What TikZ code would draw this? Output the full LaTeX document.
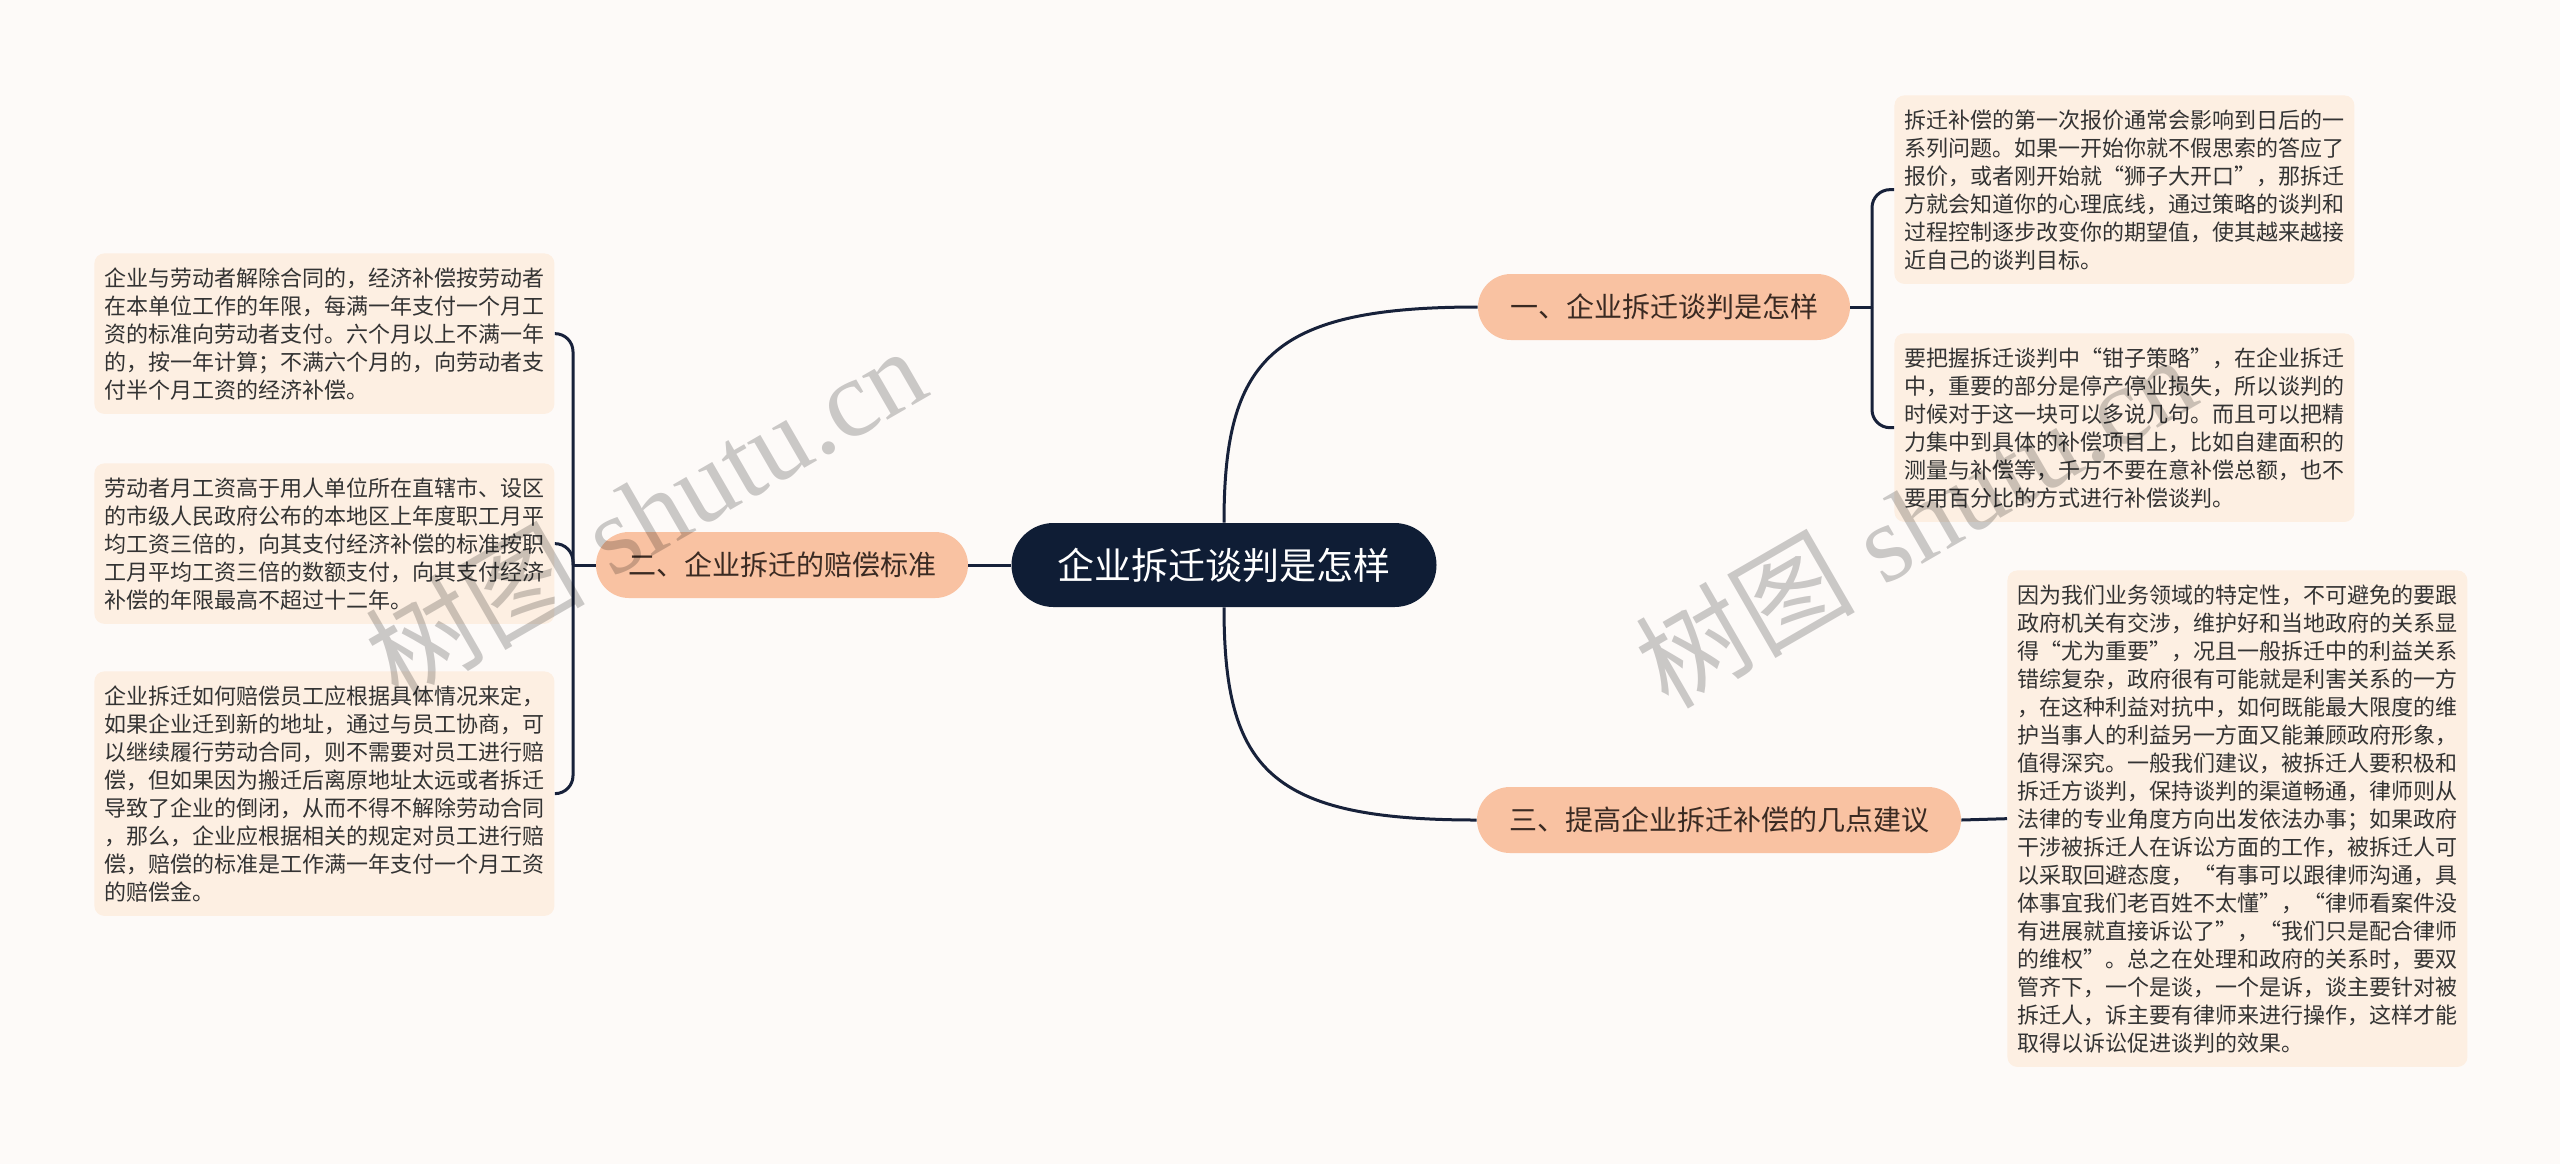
\documentclass[tikz,border=0pt]{standalone}
\usepackage{fontspec}
\setmainfont{Noto Sans CJK SC}
\newfontfamily\wmserif{Liberation Serif}
\usetikzlibrary{calc}
\definecolor{bg}{HTML}{FDFAF8}
\definecolor{navy}{HTML}{0F1D35}
\definecolor{peach}{HTML}{F9C2A2}
\definecolor{leaffill}{HTML}{FDEFE2}
\definecolor{linec}{HTML}{17213A}
\definecolor{txt}{HTML}{333333}
\definecolor{btxt}{HTML}{3A2A22}
\begin{document}
\begin{tikzpicture}[x=0.5pt,y=-0.5pt,
  rootnode/.style={fill=navy, text=white, rounded corners=21pt, minimum height=42pt, minimum width=212.5pt, inner sep=0pt, font=\fontsize{18.5pt}{22pt}\selectfont},
  branchnode/.style={fill=peach, text=btxt, rounded corners=16.5pt, minimum height=33pt, inner xsep=16pt, inner ysep=0pt, font=\fontsize{14pt}{17pt}\selectfont},
  leafnode/.style={fill=leaffill, text=txt, rounded corners=5pt, inner xsep=5pt, inner ysep=7pt, align=left, anchor=north west, font=\fontsize{11pt}{14pt}\selectfont},
  link/.style={draw=linec, line width=1.5pt},
  bracket/.style={link, rounded corners=9pt},
  wm/.style={text=black, opacity=0.2, rotate=30, inner sep=0pt, font=\fontsize{55pt}{60pt}\selectfont}
]
\path[fill=bg, use as bounding box] (0,0) rectangle (2560,1164);

% central and branch nodes
\node[rootnode] (root) at (1224,565) {企业拆迁谈判是怎样};
\node[branchnode] (b1) at (1664,307) {一、企业拆迁谈判是怎样};
\node[branchnode] (b2) at (782,565) {二、企业拆迁的赔偿标准};
\node[branchnode] (b3) at (1719,820) {三、提高企业拆迁补偿的几点建议};

% leaves right
\node[leafnode] (r1) at (1894,95) {拆迁补偿的第一次报价通常会影响到日后的一\\系列问题。如果一开始你就不假思索的答应了\\报价，或者刚开始就“狮子大开口”，那拆迁\\方就会知道你的心理底线，通过策略的谈判和\\过程控制逐步改变你的期望值，使其越来越接\\近自己的谈判目标。};
\node[leafnode] (r2) at (1894,333) {要把握拆迁谈判中“钳子策略”，在企业拆迁\\中，重要的部分是停产停业损失，所以谈判的\\时候对于这一块可以多说几句。而且可以把精\\力集中到具体的补偿项目上，比如自建面积的\\测量与补偿等，千万不要在意补偿总额，也不\\要用百分比的方式进行补偿谈判。};
\node[leafnode] (r3) at (2007,570) {因为我们业务领域的特定性，不可避免的要跟\\政府机关有交涉，维护好和当地政府的关系显\\得“尤为重要”，况且一般拆迁中的利益关系\\错综复杂，政府很有可能就是利害关系的一方\\，在这种利益对抗中，如何既能最大限度的维\\护当事人的利益另一方面又能兼顾政府形象，\\值得深究。一般我们建议，被拆迁人要积极和\\拆迁方谈判，保持谈判的渠道畅通，律师则从\\法律的专业角度方向出发依法办事；如果政府\\干涉被拆迁人在诉讼方面的工作，被拆迁人可\\以采取回避态度，“有事可以跟律师沟通，具\\体事宜我们老百姓不太懂”，“律师看案件没\\有进展就直接诉讼了”，“我们只是配合律师\\的维权”。总之在处理和政府的关系时，要双\\管齐下，一个是谈，一个是诉，谈主要针对被\\拆迁人，诉主要有律师来进行操作，这样才能\\取得以诉讼促进谈判的效果。};

% leaves left
\node[leafnode] (l1) at (94,253) {企业与劳动者解除合同的，经济补偿按劳动者\\在本单位工作的年限，每满一年支付一个月工\\资的标准向劳动者支付。六个月以上不满一年\\的，按一年计算；不满六个月的，向劳动者支\\付半个月工资的经济补偿。};
\node[leafnode] (l2) at (94,463) {劳动者月工资高于用人单位所在直辖市、设区\\的市级人民政府公布的本地区上年度职工月平\\均工资三倍的，向其支付经济补偿的标准按职\\工月平均工资三倍的数额支付，向其支付经济\\补偿的年限最高不超过十二年。};
\node[leafnode] (l3) at (94,671) {企业拆迁如何赔偿员工应根据具体情况来定，\\如果企业迁到新的地址，通过与员工协商，可\\以继续履行劳动合同，则不需要对员工进行赔\\偿，但如果因为搬迁后离原地址太远或者拆迁\\导致了企业的倒闭，从而不得不解除劳动合同\\，那么，企业应根据相关的规定对员工进行赔\\偿，赔偿的标准是工作满一年支付一个月工资\\的赔偿金。};

% connectors
\draw[link] (root.north) .. controls (1224,360) and (1270,307) .. (b1.west);
\draw[link] (root.south) .. controls (1224,770) and (1270,820) .. (b3.west);
\draw[link] (root.west) -- (b2.east);
\draw[link] (b3.east) -- (r3.west);

\coordinate (j1) at (1872,307);
\draw[link] (b1.east) -- (j1);
\draw[bracket] (j1) |- (r1.west);
\draw[bracket] (j1) |- (r2.west);

\coordinate (j2) at (573,565);
\draw[link] (b2.west) -- (j2);
\draw[bracket] (j2) |- (l1.east);
\draw[bracket] (j2) |- (l2.east);
\draw[bracket] (j2) |- (l3.east);

% watermarks
\node[wm] (wm1) at (645,512) {树图\hspace{0.25em}{\wmserif shutu.cn}};
\node[wm] (wm2) at (1915,520) {树图\hspace{0.25em}{\wmserif shutu.cn}};
\end{tikzpicture}
\end{document}
